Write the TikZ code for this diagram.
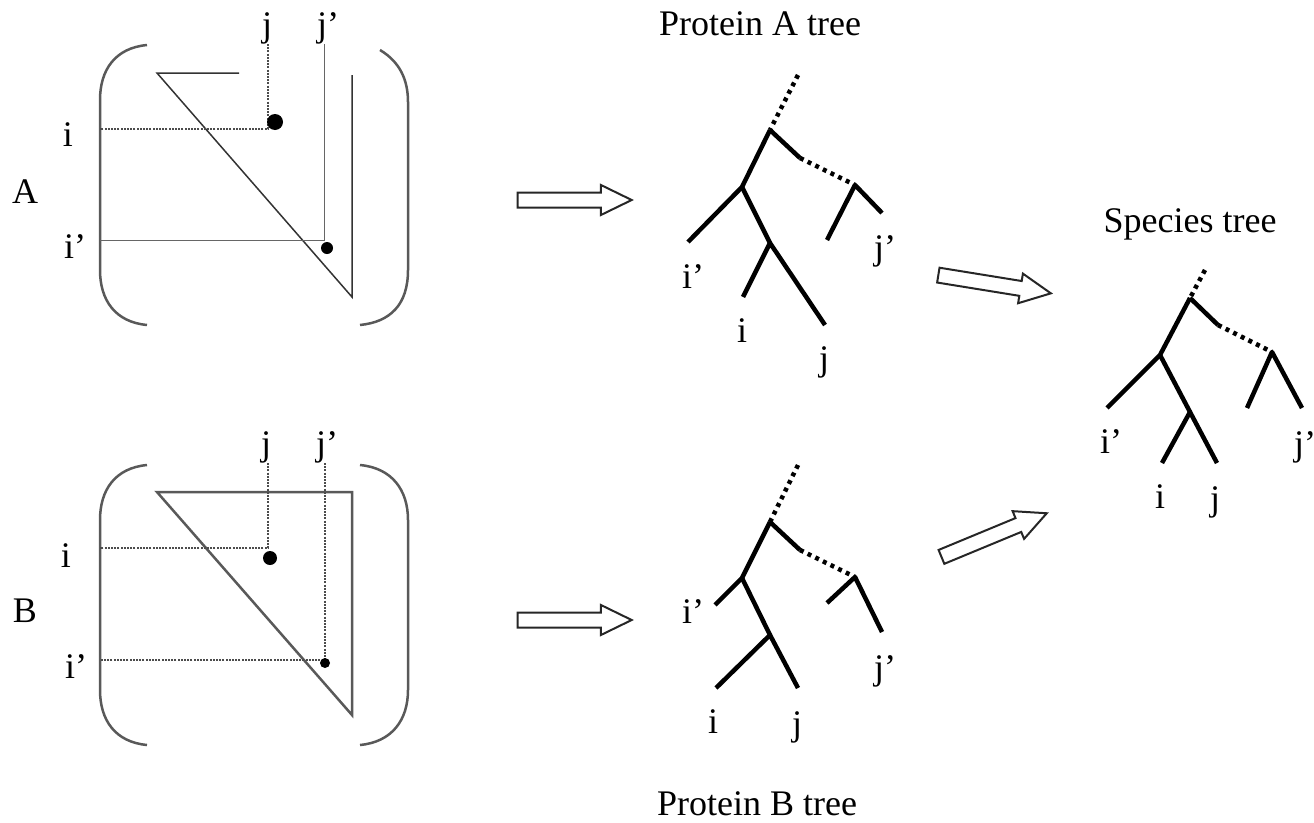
\documentclass[tikz,border=0pt]{standalone}
\usepackage{fontspec}
\setmainfont{Liberation Serif}
\usetikzlibrary{shapes.arrows}

\begin{document}
\begin{tikzpicture}[x=1pt, y=-1pt,
  lbl/.style={inner sep=0pt, anchor=base, font=\fontsize{36}{40}\selectfont},
  plbl/.style={lbl, anchor=base west},
  paren/.style={line width=2.5pt, draw=black!65},
  guide/.style={line width=1pt, draw=black!60},
  dguide/.style={line width=2pt, draw=black!70, dash pattern=on 2pt off 1.2pt},
  dot/.style={circle, fill=black, inner sep=0pt},
  branch/.style={line width=4.5pt, line join=round},
  dbranch/.style={line width=4.5pt, dash pattern=on 4pt off 4.5pt},
  fat/.style={single arrow, draw=black!85, line width=2pt, fill=white, inner sep=6.5pt,
    single arrow head extend=7.5pt, single arrow tip angle=52, minimum height=114pt}
]
\useasboundingbox (0,0) rectangle (1314,822);

% matrix A
\node[lbl] (labA) at (25,203) {A};
\node[lbl] (jA) at (267,36) {j};
\node[plbl] (jpA) at (317,36) {j’};
\node[lbl] (iA) at (68,146) {i};
\node[plbl] (ipA) at (64,258) {i’};

\draw[paren] (147,45) .. controls (115,48) and (100,70) .. (100,100) -- (100,270)
  .. controls (100,300) and (115,322) .. (147,325);
\draw[paren] (380,50) .. controls (400,62) and (408,80) .. (408,102) -- (408,270)
  .. controls (408,305) and (390,322) .. (360,325);

\draw[line width=1.5pt, draw=black!80] (239,73) -- (157,73) -- (352,297) -- (352,75);

\coordinate (pA1) at (100,129);
\coordinate (pA2) at (100,240);
\draw[dguide] (268,44) |- (pA1);
\draw[guide] (324,44) |- (pA2);
\node[dot, minimum size=16pt] (dA1) at (275,122) {};
\node[dot, minimum size=12pt] (dA2) at (327,248) {};

% matrix B
\node[lbl] (labB) at (25,622) {B};
\node[lbl] (jB) at (266,455) {j};
\node[plbl] (jpB) at (316,455) {j’};
\node[lbl] (iB) at (66,567) {i};
\node[plbl] (ipB) at (65,678) {i’};

\draw[paren] (147,465) .. controls (115,468) and (100,490) .. (100,520) -- (100,690)
  .. controls (100,720) and (115,742) .. (147,745);
\draw[paren] (360,465) .. controls (392,468) and (408,490) .. (408,520) -- (408,690)
  .. controls (408,720) and (392,742) .. (360,745);

\draw[line width=2.5pt, draw=black!65, line join=miter] (157,492) -- (352,492) -- (352,715) -- cycle;

\coordinate (pB1) at (100,548);
\coordinate (pB2) at (100,660);
\draw[dguide] (268,463) |- (pB1);
\draw[dguide] (325,463) |- (pB2);
\node[dot, minimum size=14pt] (dB1) at (270,558) {};
\node[dot, minimum size=10pt] (dB2) at (325,663) {};

% arrows
\node[fat] (arA) at (567,200) {};
\node[fat] (arB) at (567,620) {};
\node[fat, rotate=-9.2] (arAS) at (987,283) {};
\node[fat, rotate=22.5] (arBS) at (987,538) {};

% protein A tree
\node[lbl] (titA) at (760,35) {Protein A tree};
\coordinate (aTop) at (798,75);
\coordinate (aR) at (770,130);
\coordinate (aK) at (800,158);
\coordinate (aS) at (855,185);
\coordinate (aS1) at (827,240);
\coordinate (aS2) at (882,213);
\coordinate (aL) at (742,187);
\coordinate (aL1) at (688,242);
\coordinate (aM) at (770,243);
\coordinate (aM1) at (743,297);
\coordinate (aM2) at (825,325);
\draw[dbranch] (aTop) -- (aR);
\draw[branch] (aR) -- (aK);
\draw[dbranch] (aK) -- (aS);
\draw[branch] (aS1) -- (aS) -- (aS2);
\draw[branch] (aL1) -- (aL) -- (aR);
\draw[branch] (aL) -- (aM);
\draw[branch] (aM1) -- (aM) -- (aM2);
\node[plbl] (tAip) at (682,288) {i’};
\node[lbl] (tAi) at (742,342) {i};
\node[lbl] (tAj) at (824,370) {j};
\node[plbl] (tAjp) at (874,259) {j’};

% protein B tree
\node[lbl] (titB) at (757,815) {Protein B tree};
\coordinate (bTop) at (798,465);
\coordinate (bR) at (770,522);
\coordinate (bK) at (800,550);
\coordinate (bS) at (855,577);
\coordinate (bS1) at (827,603);
\coordinate (bS2) at (882,632);
\coordinate (bL) at (742,578);
\coordinate (bL1) at (715,605);
\coordinate (bM) at (770,635);
\coordinate (bM1) at (716,688);
\coordinate (bM2) at (798,688);
\draw[dbranch] (bTop) -- (bR);
\draw[branch] (bR) -- (bK);
\draw[dbranch] (bK) -- (bS);
\draw[branch] (bS1) -- (bS) -- (bS2);
\draw[branch] (bL1) -- (bL) -- (bR);
\draw[branch] (bL) -- (bM);
\draw[branch] (bM1) -- (bM) -- (bM2);
\node[plbl] (tBip) at (682,623) {i’};
\node[lbl] (tBi) at (713,733) {i};
\node[lbl] (tBj) at (797,735) {j};
\node[plbl] (tBjp) at (874,679) {j’};

% species tree
\node[lbl] (titS) at (1190,232) {Species tree};
\coordinate (sTop) at (1205,270);
\coordinate (sR) at (1190,298);
\coordinate (sK) at (1218,325);
\coordinate (sS) at (1272,352);
\coordinate (sS1) at (1247,408);
\coordinate (sS2) at (1302,408);
\coordinate (sL) at (1160,355);
\coordinate (sL1) at (1107,408);
\coordinate (sM) at (1190,412);
\coordinate (sM1) at (1162,463);
\coordinate (sM2) at (1217,463);
\draw[dbranch] (sTop) -- (sR);
\draw[branch] (sR) -- (sK);
\draw[dbranch] (sK) -- (sS);
\draw[branch] (sS1) -- (sS) -- (sS2);
\draw[branch] (sL1) -- (sL) -- (sR);
\draw[branch] (sL) -- (sM);
\draw[branch] (sM1) -- (sM) -- (sM2);
\node[plbl] (sip) at (1100,453) {i’};
\node[lbl] (si) at (1160,508) {i};
\node[lbl] (sj) at (1215,510) {j};
\node[plbl] (sjp) at (1294,455) {j’};

\end{tikzpicture}
\end{document}
